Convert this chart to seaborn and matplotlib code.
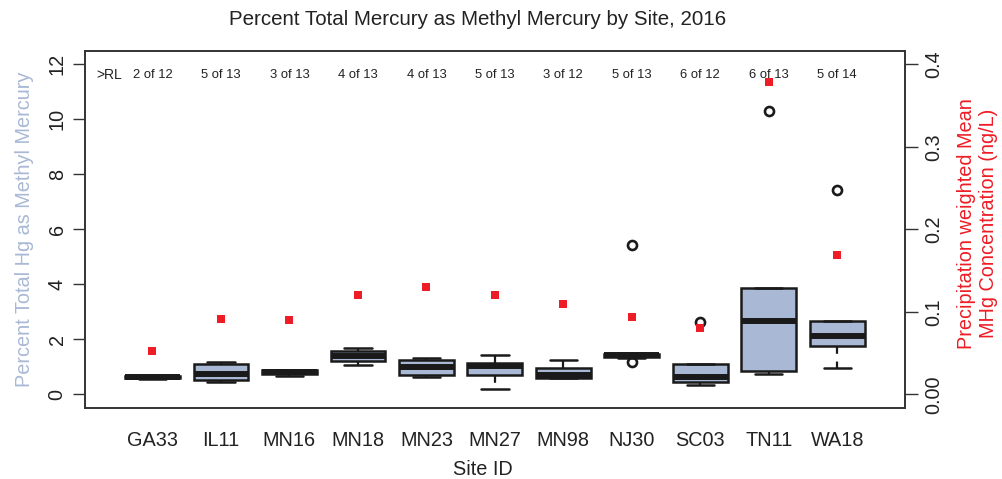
import matplotlib
matplotlib.use("Agg")
import matplotlib.pyplot as plt
import seaborn as sns
import numpy as np

# Sites and box summaries (percent of total Hg as methyl Hg)
sites = ["GA33", "IL11", "MN16", "MN18", "MN23", "MN27", "MN98", "NJ30", "SC03", "TN11", "WA18"]
whisker_low = [0.58, 0.44, 0.67, 1.08, 0.64, 0.20, 0.60, 1.33, 0.35, 0.73, 0.97]
q1 = [0.60, 0.51, 0.73, 1.21, 0.71, 0.69, 0.60, 1.35, 0.46, 0.85, 1.76]
median = [0.63, 0.76, 0.80, 1.40, 1.00, 1.03, 0.70, 1.42, 0.62, 2.68, 2.12]
q3 = [0.66, 1.09, 0.88, 1.57, 1.27, 1.15, 0.98, 1.48, 1.09, 3.88, 2.67]
whisker_high = [0.68, 1.17, 0.88, 1.70, 1.33, 1.44, 1.25, 1.49, 1.09, 3.88, 2.67]
outliers = [[], [], [], [], [], [], [], [5.43, 1.17], [2.64], [10.31], [7.43]]

# Precipitation-weighted mean MHg concentration (ng/L)
mhg_conc = [0.053, 0.092, 0.090, 0.121, 0.130, 0.121, 0.109, 0.094, 0.080, 0.379, 0.169]

# Samples above reporting limit
above_rl = ["2 of 12", "5 of 13", "3 of 13", "4 of 13", "4 of 13", "5 of 13",
            "3 of 12", "5 of 13", "6 of 12", "6 of 13", "5 of 14"]

left_ticks = [0, 2, 4, 6, 8, 10, 12]
right_ticks = [0.0, 0.1, 0.2, 0.3, 0.4]
right_ticklabels = ["0.00", "0.1", "0.2", "0.3", "0.4"]

sns.set_theme(style="white")
plt.rcParams["font.family"] = ["Liberation Sans", "DejaVu Sans"]
plt.rcParams["text.color"] = "#222222"
plt.rcParams["axes.labelcolor"] = "#222222"
plt.rcParams["xtick.color"] = "#222222"
plt.rcParams["ytick.color"] = "#222222"

BOX_FILL = "#a8b8d5"
RED = "#ee1c25"
FS = 14.3

fig = plt.figure(figsize=(10.02, 4.79), dpi=100)
ax = fig.add_axes([84.7 / 1002, 1 - 407.7 / 479, (905 - 84.7) / 1002, (407.7 - 51) / 479])

stats = []
for i, s in enumerate(sites):
    stats.append(dict(label=s, whislo=whisker_low[i], q1=q1[i], med=median[i],
                      q3=q3[i], whishi=whisker_high[i], fliers=outliers[i]))
pos = np.arange(len(sites))
ax.bxp(stats, positions=pos, widths=0.8, patch_artist=True, capwidths=0.4,
       boxprops=dict(facecolor=BOX_FILL, edgecolor="#1a1a1a", linewidth=1.8),
       medianprops=dict(color="#1a1a1a", linewidth=4.3, solid_capstyle="butt"),
       whiskerprops=dict(color="#1a1a1a", linewidth=1.6, linestyle=(0, (3.5, 3.5))),
       capprops=dict(color="#1a1a1a", linewidth=1.8),
       flierprops=dict(marker="o", markerfacecolor="none", markeredgecolor="#1a1a1a",
                       markersize=6.5, markeredgewidth=1.9))

ax.set_xlim(-0.99, 10.99)
ax.set_ylim(-0.48, 12.48)
ax.set_xticks(pos)
ax.set_xticklabels(sites, fontsize=FS)
ax.set_yticks(left_ticks)
ax.set_yticklabels([str(t) for t in left_ticks], fontsize=FS, rotation=90, va="center")
ax.tick_params(axis="both", direction="out", length=9, width=1.0, colors="#333333",
               labelcolor="#222222")
ax.tick_params(axis="x", pad=8)
ax.tick_params(axis="y", pad=4)
for sp in ax.spines.values():
    sp.set_color("#333333")
    sp.set_linewidth(1.2)

ax.set_xlabel("Site ID", fontsize=FS, labelpad=7, x=0.4856)
ax.set_ylabel("Percent Total Hg as Methyl Mercury", fontsize=FS, color=BOX_FILL, labelpad=10)
ax.set_title("Percent Total Mercury as Methyl Mercury by Site, 2016", fontsize=14.8,
             pad=19, x=0.479)

# Counts above the reporting limit along the top
ax.text(-0.63, 11.59, ">RL", fontsize=10, ha="center", va="center")
for i, lab in enumerate(above_rl):
    ax.text(pos[i], 11.59, lab, fontsize=9.4, ha="center", va="center")

# Secondary axis for concentration
ax2 = ax.twinx()
sns.scatterplot(x=pos, y=mhg_conc, ax=ax2, marker="s", color=RED, s=30,
                linewidth=0, zorder=5)
ax2.set_ylim(-0.016, 0.416)
ax2.set_yticks(right_ticks)
ax2.set_yticklabels(right_ticklabels, fontsize=FS, rotation=90, va="center")
ax2.tick_params(axis="y", direction="out", length=9, width=1.0, colors="#333333",
                labelcolor="#222222", pad=5)
ax2.set_ylabel("Precipitation weighted Mean\nMHg Concentration (ng/L)", fontsize=FS,
               color=RED, rotation=90, labelpad=10, linespacing=1.2, y=0.516)
for sp in ax2.spines.values():
    sp.set_color("#333333")
    sp.set_linewidth(1.2)

fig.savefig("out.png", dpi=100)
